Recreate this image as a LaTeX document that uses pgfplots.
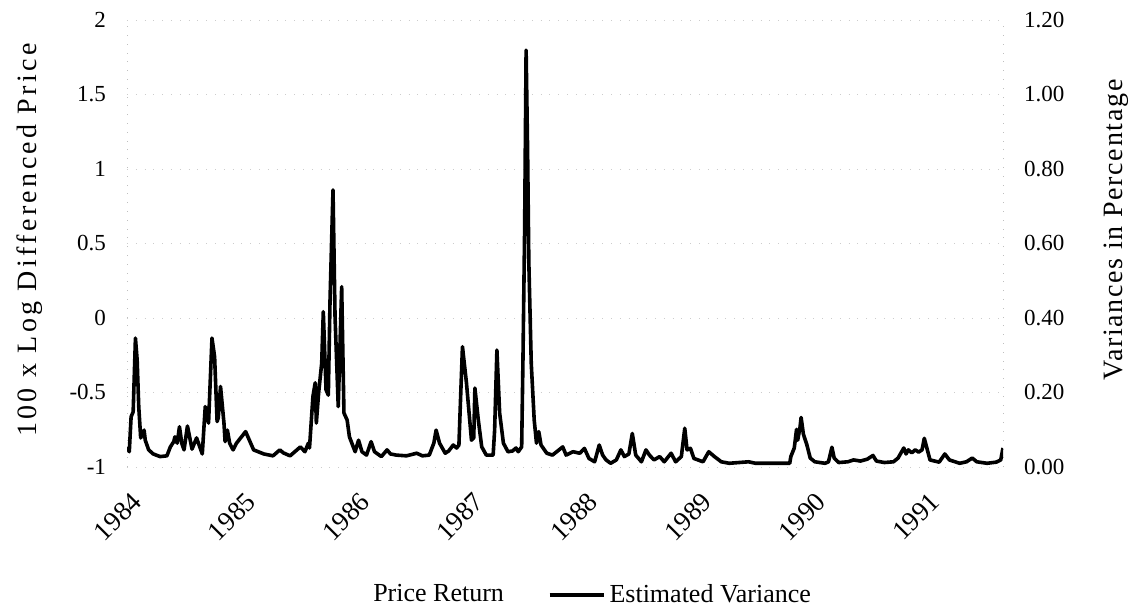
\documentclass[border=0pt]{standalone}
\usepackage{fontspec}
\setmainfont{Liberation Serif}
\newfontfamily\leftlab[LetterSpace=12]{Liberation Serif}
\newfontfamily\rightlab[LetterSpace=6]{Liberation Serif}
\usepackage{pgfplots}
\pgfplotsset{compat=1.18}
\usepackage{pgfplotstable}

% estimated variance (year, variance in %)
\pgfplotstableread{
year var
1983.97 0.054
1983.99 0.041
1984.006 0.135
1984.024 0.148
1984.044 0.346
1984.059 0.287
1984.073 0.162
1984.09 0.078
1984.12 0.099
1984.13 0.072
1984.16 0.046
1984.20 0.035
1984.26 0.028
1984.32 0.030
1984.35 0.054
1984.38 0.068
1984.39 0.081
1984.41 0.064
1984.43 0.108
1984.45 0.064
1984.47 0.046
1984.50 0.110
1984.54 0.048
1984.58 0.078
1984.63 0.035
1984.656 0.162
1984.685 0.118
1984.715 0.346
1984.738 0.296
1984.76 0.122
1984.77 0.132
1984.79 0.216
1984.82 0.118
1984.83 0.068
1984.85 0.099
1984.87 0.064
1984.90 0.046
1984.93 0.064
1985.01 0.095
1985.08 0.046
1985.17 0.035
1985.25 0.030
1985.31 0.046
1985.34 0.038
1985.40 0.030
1985.49 0.054
1985.53 0.041
1985.56 0.064
1985.57 0.051
1985.60 0.189
1985.62 0.226
1985.63 0.118
1985.65 0.199
1985.677 0.279
1985.691 0.417
1985.715 0.207
1985.735 0.193
1985.750 0.448
1985.776 0.744
1985.794 0.403
1985.822 0.162
1985.852 0.484
1985.872 0.145
1985.90 0.126
1985.92 0.081
1985.97 0.041
1986.00 0.072
1986.03 0.041
1986.07 0.032
1986.11 0.068
1986.14 0.041
1986.20 0.028
1986.25 0.046
1986.28 0.035
1986.33 0.032
1986.42 0.030
1986.51 0.037
1986.56 0.030
1986.62 0.032
1986.66 0.064
1986.68 0.099
1986.71 0.064
1986.76 0.037
1986.79 0.043
1986.83 0.059
1986.86 0.051
1986.88 0.059
1986.893 0.172
1986.911 0.323
1986.946 0.226
1986.99 0.072
1987.01 0.078
1987.02 0.212
1987.05 0.126
1987.08 0.054
1987.12 0.032
1987.18 0.032
1987.193 0.099
1987.213 0.314
1987.237 0.145
1987.27 0.064
1987.31 0.041
1987.35 0.043
1987.38 0.051
1987.40 0.041
1987.43 0.054
1987.441 0.279
1987.456 0.636
1987.469 1.119
1987.482 0.851
1987.493 0.548
1987.514 0.279
1987.54 0.126
1987.56 0.064
1987.58 0.095
1987.60 0.059
1987.65 0.037
1987.70 0.032
1987.79 0.054
1987.82 0.032
1987.88 0.041
1987.94 0.037
1987.98 0.050
1988.02 0.023
1988.07 0.014
1988.11 0.059
1988.14 0.032
1988.17 0.019
1988.21 0.010
1988.26 0.019
1988.30 0.046
1988.33 0.028
1988.37 0.035
1988.40 0.090
1988.43 0.032
1988.48 0.014
1988.52 0.046
1988.55 0.032
1988.59 0.019
1988.64 0.028
1988.68 0.014
1988.74 0.037
1988.78 0.014
1988.83 0.028
1988.86 0.104
1988.88 0.046
1988.91 0.050
1988.94 0.023
1989.02 0.014
1989.07 0.041
1989.12 0.028
1989.18 0.014
1989.25 0.010
1989.42 0.014
1989.48 0.010
1989.78 0.010
1989.79 0.028
1989.82 0.051
1989.84 0.101
1989.85 0.072
1989.87 0.106
1989.88 0.133
1989.90 0.088
1989.93 0.060
1989.96 0.024
1990.00 0.014
1990.09 0.010
1990.12 0.014
1990.15 0.053
1990.17 0.024
1990.21 0.012
1990.29 0.014
1990.34 0.019
1990.40 0.016
1990.46 0.021
1990.51 0.031
1990.54 0.016
1990.61 0.012
1990.69 0.014
1990.73 0.024
1990.78 0.051
1990.80 0.035
1990.82 0.046
1990.85 0.038
1990.88 0.046
1990.91 0.040
1990.94 0.046
1990.96 0.077
1990.99 0.042
1991.01 0.019
1991.09 0.013
1991.14 0.035
1991.18 0.019
1991.27 0.010
1991.33 0.014
1991.38 0.024
1991.42 0.014
1991.51 0.010
1991.59 0.013
1991.63 0.019
1991.65 0.051
}\variance

\begin{document}
\begin{tikzpicture}
\useasboundingbox (-63.5pt,-72pt) rectangle (506pt,233.5pt);
% left axis: price return scale, years along the bottom
\begin{axis}[
  scale only axis, width=438pt, height=223.5pt,
  xmin=1983.97, xmax=1991.65,
  ymin=-1, ymax=2,
  ytick={-1,-0.5,0,0.5,1,1.5,2},
  xtick={1984,1985,1986,1987,1988,1989,1990,1991},
  xticklabels={1984,1985,1986,1987,1988,1989,1990,1991},
  axis y line*=left, axis x line*=bottom,
  x axis line style={draw=none},
  y axis line style={loosely dotted, gray!50},
  tick style={draw=none},
  ymajorgrids, grid style={loosely dotted, gray!40},
  /pgf/number format/assume math mode=true,
  yticklabel style={font=\fontsize{11.5}{12}\selectfont, xshift=-7pt},
  xticklabel style={font=\fontsize{13.5}{14}\selectfont, rotate=45, anchor=north east, xshift=-5pt, yshift=-5pt},
  ylabel={\leftlab 100 x Log Differenced Price},
  ylabel style={font=\fontsize{14}{15}\selectfont, at={(axis description cs:-0.111,0.508)}, anchor=center},
]
\end{axis}
% right axis: estimated variance
\begin{axis}[
  scale only axis, width=438pt, height=223.5pt,
  xmin=1983.97, xmax=1991.65,
  ymin=0, ymax=1.2,
  ytick={0,0.2,0.4,0.6,0.8,1,1.2},
  axis y line*=right, axis x line=none,
  y axis line style={loosely dotted, gray!50},
  tick style={draw=none},
  /pgf/number format/assume math mode=true,
  yticklabel style={font=\fontsize{11.5}{12}\selectfont, xshift=7pt,
    /pgf/number format/.cd, fixed, fixed zerofill, precision=2},
  ylabel={\rightlab Variances in Percentage},
  ylabel style={font=\fontsize{14}{15}\selectfont, at={(axis description cs:1.129,0.53)}, anchor=center},
  legend columns=2,
  legend style={at={(0.5,-0.286)}, anchor=center, draw=none,
    font=\fontsize{13}{14}\selectfont,
    /tikz/every even column/.append style={column sep=20pt}},
  legend image code/.code={\draw[#1] (0pt,0pt) -- (27pt,0pt);},
]
\addlegendimage{draw=white, line width=0.1pt}
\addlegendentry{Price Return}
\addplot[black, line width=1.8pt, line join=round] table[x=year, y=var]{\variance};
\addlegendentry{Estimated Variance}
\end{axis}
\end{tikzpicture}
\end{document}
